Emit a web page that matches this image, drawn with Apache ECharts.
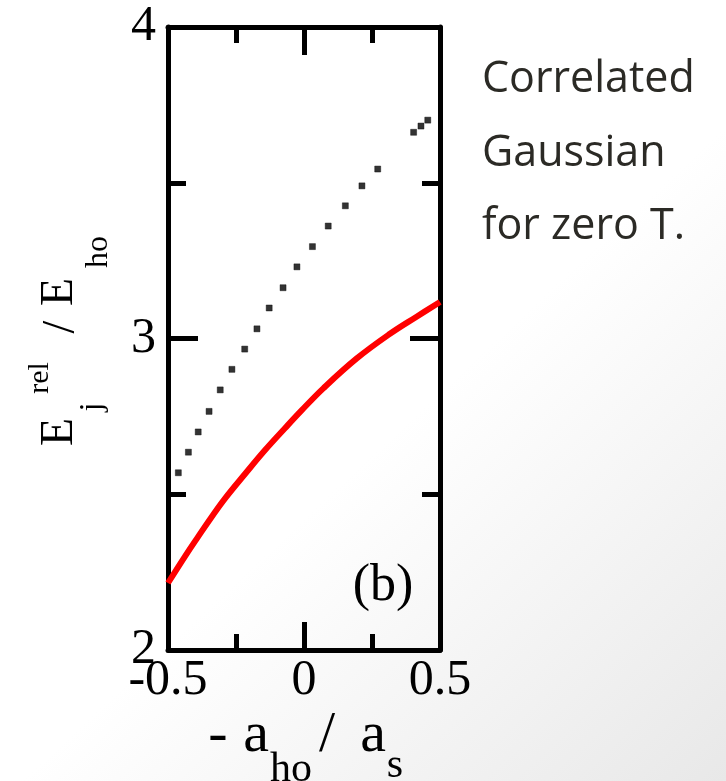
<!DOCTYPE html>
<html>
<head>
<meta charset="utf-8">
<script src="https://cdn.jsdelivr.net/npm/echarts@6/dist/echarts.min.js"></script>
<style>
  html, body { margin: 0; padding: 0; }
  #chart { width: 726px; height: 781px; }
</style>
</head>
<body>
<div id="chart"></div>
<script>
// dotted series (black squares)
const dotX = [-0.462, -0.425, -0.389, -0.349, -0.308, -0.265, -0.218, -0.173, -0.128, -0.077,
  -0.026, 0.031, 0.089, 0.152, 0.213, 0.271, 0.403, 0.430, 0.455]
const dotY = [2.569, 2.635, 2.700, 2.766, 2.835, 2.901, 2.966, 3.031, 3.098, 3.163,
  3.230, 3.295, 3.361, 3.426, 3.490, 3.544, 3.662, 3.682, 3.701]
// red curve
const redX = [-0.5, -0.438, -0.389, -0.339, -0.290, -0.217, -0.143, -0.070, -0.008, 0.071, 0.194, 0.316, 0.414, 0.5]
const redY = [2.215, 2.300, 2.364, 2.428, 2.487, 2.565, 2.642, 2.712, 2.770, 2.840, 2.936, 3.015, 3.070, 3.117]
// tick labels
const xTicks = { '-0.5': '-0.5', '0': '0', '0.5': '0.5' }
const yTicks = { '2': '2', '3': '3', '4': '4' }
const noteLines = ['Correlated', 'Gaussian', 'for zero T.']

const serif = 'Liberation Serif'
const chart = echarts.init(document.getElementById('chart'))

const frameAxis = (extra) => Object.assign({
  type: 'value',
  axisLine: { show: true, onZero: false, lineStyle: { color: '#000', width: 5 } },
  splitLine: { show: false },
  minorSplitLine: { show: false },
}, extra)

const ticks = (len, minorLen) => ({
  axisTick: { show: true, inside: true, length: len, lineStyle: { color: '#000', width: 5 } },
  minorTick: { show: true, splitNumber: 2, length: minorLen, lineStyle: { color: '#000', width: 5 } },
})

const labelStyle = { color: '#000', fontFamily: serif, fontSize: 50 }

const txt = (text, x, y, size, rot, family, color, align) => ({
  type: 'text',
  x: x,
  y: y,
  rotation: rot || 0,
  style: {
    text: text,
    fill: color || '#000',
    font: size + 'px "' + (family || serif) + '"',
    textAlign: align || 'center',
    textVerticalAlign: 'middle',
    verticalAlign: 'middle',
  },
})

const noteColor = '#2b2a25'

const option = {
  backgroundColor: new echarts.graphic.LinearGradient(0, 0, 1, 1, [
    { offset: 0, color: '#ffffff' },
    { offset: 0.55, color: '#ffffff' },
    { offset: 1, color: '#e8e8e8' },
  ]),
  animation: false,
  grid: { left: 168, right: 286, top: 27, bottom: 131 },
  xAxis: [
    frameAxis(Object.assign({
      min: -0.5, max: 0.5, interval: 0.5, position: 'bottom',
      axisLabel: Object.assign({ margin: 6, formatter: (v) => xTicks[String(v)] || '' }, labelStyle),
    }, ticks(28, 16))),
    frameAxis(Object.assign({
      min: -0.5, max: 0.5, interval: 0.5, position: 'top',
      axisLabel: { show: false },
    }, ticks(28, 16))),
  ],
  yAxis: [
    frameAxis(Object.assign({
      min: 2, max: 4, interval: 1, position: 'left',
      axisLabel: Object.assign({ margin: 12, formatter: (v) => yTicks[String(v)] || '' }, labelStyle),
    }, ticks(30, 18))),
    frameAxis(Object.assign({
      min: 2, max: 4, interval: 1, position: 'right',
      axisLabel: { show: false },
    }, ticks(30, 18))),
  ],
  series: [
    {
      type: 'line',
      data: redX.map((x, i) => [x, redY[i]]),
      smooth: 0.4,
      showSymbol: false,
      lineStyle: { color: '#ff0000', width: 6 },
      z: 3,
    },
    {
      type: 'scatter',
      data: dotX.map((x, i) => [x, dotY[i]]),
      symbol: 'rect',
      symbolSize: 6,
      itemStyle: { color: '#000', borderColor: '#000', borderWidth: 0.5 },
      z: 4,
    },
  ],
  graphic: [
    // y axis title, rotated
    txt('E', 60, 432, 46, Math.PI / 2),
    txt('j', 93, 407, 32, Math.PI / 2),
    txt('rel', 40, 378, 30, Math.PI / 2),
    txt('/', 62, 327, 46, Math.PI / 2),
    txt('E', 60, 292, 46, Math.PI / 2),
    txt('ho', 99, 252, 32, Math.PI / 2),
    // x axis title
    txt('-', 218, 736, 58),
    txt('a', 256, 736, 58),
    txt('ho', 291, 770, 42),
    txt('/', 327, 736, 58),
    txt('a', 373, 736, 58),
    txt('s', 395, 766, 42),
    // panel tag
    txt('(b)', 383, 586, 52),
    // side note
    txt(noteLines[0], 482, 80, 43, 0, 'Open Sans', noteColor, 'left'),
    txt(noteLines[1], 482, 154, 43, 0, 'Open Sans', noteColor, 'left'),
    txt(noteLines[2], 482, 227, 43, 0, 'Open Sans', noteColor, 'left'),
  ],
}

chart.setOption(option)
</script>
</body>
</html>
